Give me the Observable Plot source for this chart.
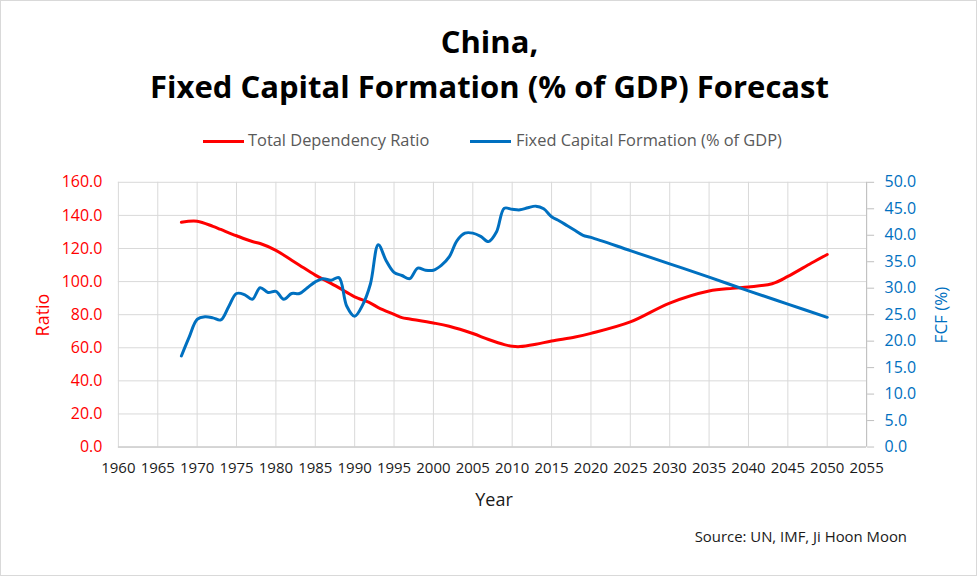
<!DOCTYPE html>
<html>
<head>
<meta charset="utf-8">
<script src="https://cdn.jsdelivr.net/npm/d3@7"></script>
<script src="https://cdn.jsdelivr.net/npm/@observablehq/plot@0.6"></script>
<style>
  html, body { margin: 0; padding: 0; background: #fff; }
  #wrap { position: relative; width: 975px; height: 574px; border: 1px solid #d9d9d9; background: #fff; overflow: hidden; font-family: "Open Sans", sans-serif; }
  #chart { position: absolute; left: -1px; top: -1px; }
  .abs { position: absolute; white-space: nowrap; line-height: 1; }
  .title { left: 0; width: 977px; text-align: center; font-weight: bold; font-size: 31px; color: #000; }
  .title span { display: inline-block; transform: scaleX(1.0); transform-origin: center; }
  .leg { font-size: 16.4px; color: #595959; }
  .sw { position: absolute; height: 3px; }
</style>
</head>
<body>
<div id="wrap">
  <div id="chart"></div>
  <div class="abs title" style="top:25px"><span>China,</span></div>
  <div class="abs title" style="top:70px"><span>Fixed Capital Formation (% of GDP) Forecast</span></div>
  <div class="sw" style="left:202px; top:139px; width:41px; background:#ff0000"></div>
  <div class="abs leg" style="left:247px; top:131px">Total Dependency Ratio</div>
  <div class="sw" style="left:469px; top:139px; width:41px; background:#0070c0"></div>
  <div class="abs leg" style="left:515px; top:131px">Fixed Capital Formation (% of GDP)</div>
  <div class="abs" style="left:41px; top:314px; font-size:18px; color:#ff0000; transform:translate(-50%,-50%) rotate(-90deg)">Ratio</div>
  <div class="abs" style="left:939px; top:314px; font-size:17px; color:#0070c0; transform:translate(-50%,-50%) rotate(-90deg)">FCF (%)</div>
  <div class="abs" style="left:493px; top:489px; font-size:18px; color:#1a1a1a; transform:translateX(-50%)">Year</div>
  <div class="abs" style="right:69px; top:528px; font-size:14.9px; color:#1a1a1a">Source: UN, IMF, Ji Hoon Moon</div>
</div>
<script>
// Total Dependency Ratio (left axis)
const ratioYears  = [1968,1970,1972,1973,1975,1977,1978,1980,1982,1983,1985,1987,1989,1990,1992,1993,1995,1996,1997,2000,2002,2005,2007,2009,2010,2011,2013,2015,2018,2020,2025,2030,2035,2038,2040,2043,2045,2048,2050];
const ratioValues = [135.9,136.5,133.4,131.5,127.7,124.2,123.0,118.9,112.9,109.9,103.9,98.9,93.5,90.8,87.0,84.3,80.2,78.2,77.4,75.0,73.0,68.6,65.0,61.9,60.9,60.7,62.1,64.1,66.5,68.7,75.6,87.0,94.3,95.9,96.7,98.7,103.1,111.2,116.4];

// Fixed Capital Formation, % of GDP (right axis)
const fcfYears  = [1968,1969,1970,1971,1972,1973,1974,1975,1976,1977,1978,1979,1980,1981,1982,1983,1984,1985,1986,1987,1988,1989,1990,1991,1992,1993,1994,1995,1996,1997,1998,1999,2000,2001,2002,2003,2004,2005,2006,2007,2008,2009,2010,2011,2012,2013,2014,2015,2016,2017,2018,2019,2020,2025,2030,2035,2040,2045,2050];
const fcfValues = [17.2,20.8,24.1,24.6,24.4,24.0,26.5,29.0,28.8,27.9,30.1,29.2,29.4,27.9,29.0,29.0,30.1,31.2,31.8,31.5,32.0,26.6,24.7,26.8,30.8,38.2,35.2,33.0,32.4,31.8,33.8,33.4,33.4,34.3,35.9,39.0,40.4,40.4,39.8,38.8,40.6,45.1,44.9,44.8,45.2,45.5,45.0,43.5,42.7,41.8,40.9,40.0,39.6,37.1,34.6,32.1,29.5,27.0,24.5];

// Axes
const xTicks = d3.range(1960, 2056, 5);
const ratioTicks = d3.range(0, 161, 20);
const fcfTicks = d3.range(0, 51, 5);
const ratioMax = 160, fcfMax = 50;
const k = ratioMax / fcfMax;

const ratioData = ratioYears.map((y, i) => ({year: y, value: ratioValues[i]}));
const fcfData = fcfYears.map((y, i) => ({year: y, value: fcfValues[i]}));

const RED = "#ff0000", BLUE = "#0070c0", GRID = "#d9d9d9", AXIS = "#bfbfbf";

const chart = Plot.plot({
  width: 977,
  height: 576,
  marginLeft: 118,
  marginRight: 110,
  marginTop: 182,
  marginBottom: 129,
  style: {fontFamily: "Open Sans, sans-serif", background: "transparent"},
  x: {domain: [1960, 2055], label: null},
  y: {domain: [0, ratioMax], label: null},
  marks: [
    Plot.gridX(xTicks, {stroke: GRID, strokeOpacity: 1}),
    Plot.gridY(ratioTicks, {stroke: GRID, strokeOpacity: 1}),
    Plot.ruleY([0], {stroke: AXIS}),
    Plot.ruleX([2055], {stroke: AXIS}),
    Plot.axisX(xTicks, {tickSize: 0, tickPadding: 15, fontSize: 15, fill: "#1a1a1a", tickFormat: d => String(d), label: null}),
    Plot.axisY(ratioTicks, {anchor: "left", tickSize: 0, tickPadding: 16, fontSize: 16, fill: RED, tickFormat: d => d.toFixed(1), label: null}),
    Plot.axisY(fcfTicks.map(v => v * k), {anchor: "right", tickSize: 7, tickPadding: 11, fontSize: 16, stroke: AXIS, fill: BLUE, tickFormat: d => (d / k).toFixed(1), label: null}),
    Plot.line(ratioData, {x: "year", y: "value", stroke: RED, strokeWidth: 3, curve: "catmull-rom"}),
    Plot.line(fcfData, {x: "year", y: d => d.value * k, stroke: BLUE, strokeWidth: 3, curve: "catmull-rom"})
  ]
});
document.getElementById("chart").appendChild(chart);
</script>
</body>
</html>
